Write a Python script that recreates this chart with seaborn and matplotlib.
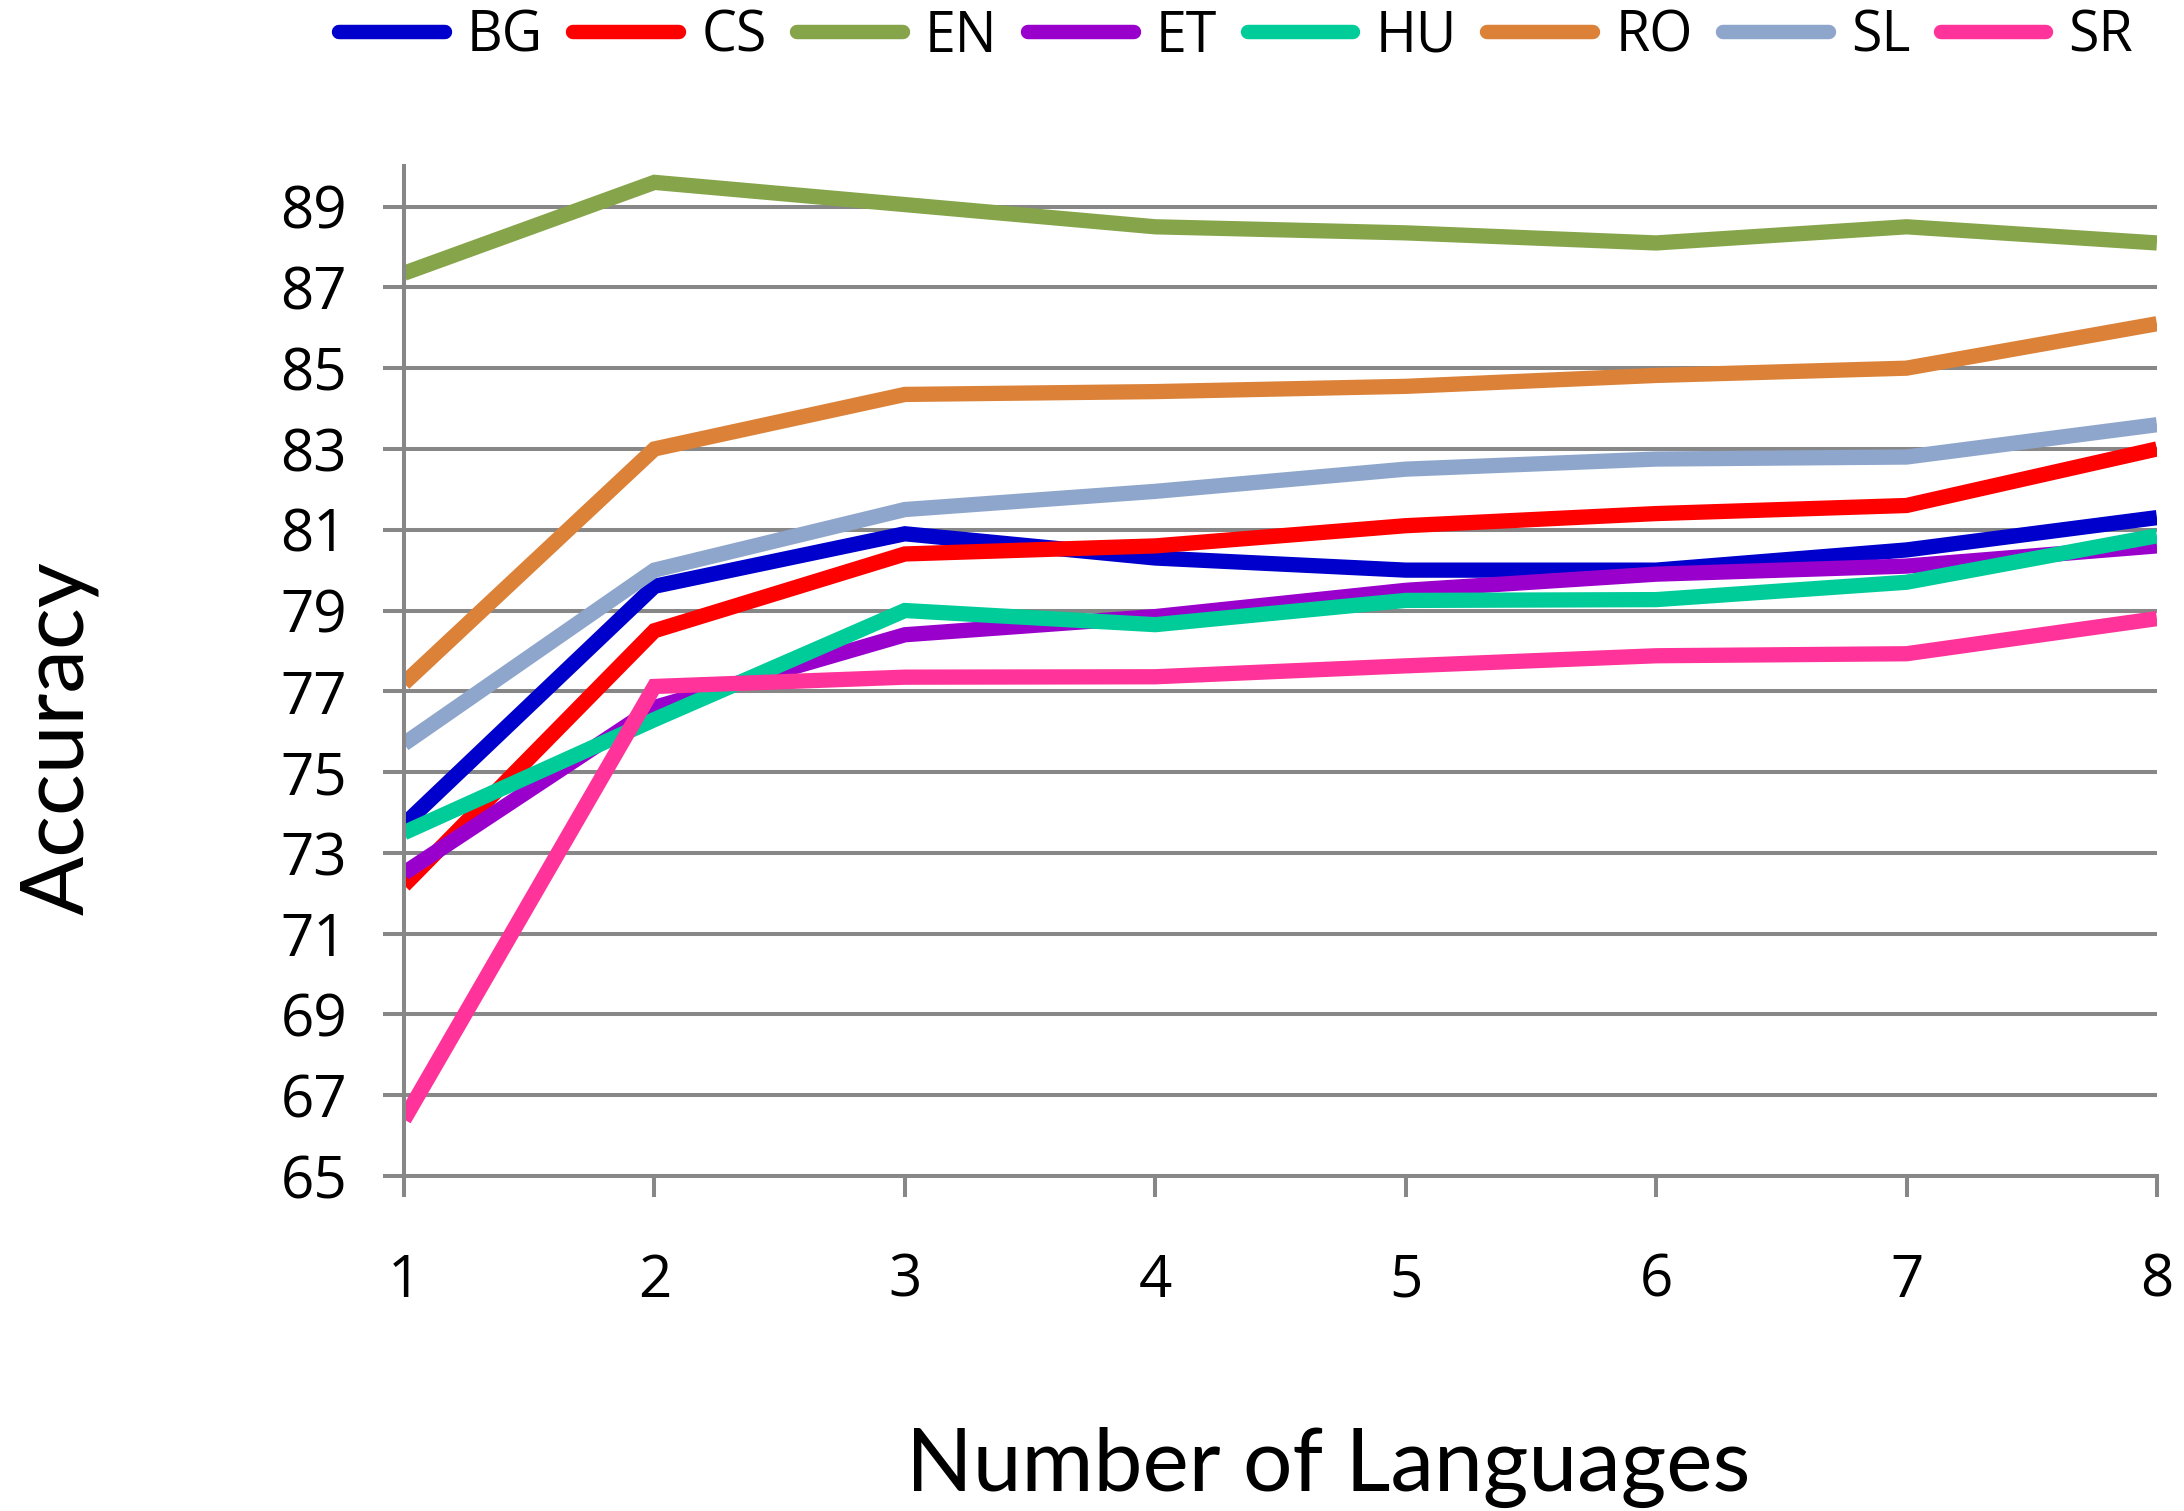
import numpy as np
import pandas as pd
import matplotlib
matplotlib.use("Agg")
import matplotlib.pyplot as plt
import seaborn as sns

# Accuracy by number of training languages, one series per language
num_languages = [1, 2, 3, 4, 5, 6, 7, 8]
series_names = ["BG", "CS", "EN", "ET", "HU", "RO", "SL", "SR"]

bg = [73.7, 79.6, 80.9, 80.3, 80.0, 80.0, 80.5, 81.3]
cs = [72.2, 78.5, 80.4, 80.6, 81.1, 81.4, 81.6, 83.0]
en = [87.35, 89.6, 89.05, 88.5, 88.35, 88.1, 88.5, 88.1]
et = [72.5, 76.6, 78.4, 78.85, 79.5, 79.9, 80.1, 80.6]
hu = [73.5, 76.3, 79.0, 78.65, 79.25, 79.27, 79.7, 80.85]
ro = [77.2, 83.0, 84.35, 84.42, 84.55, 84.82, 85.0, 86.1]
sl = [75.7, 80.0, 81.5, 81.95, 82.5, 82.75, 82.8, 83.6]
sr = [66.4, 77.12, 77.35, 77.36, 77.63, 77.88, 77.93, 78.8]

y_ticks = [65, 67, 69, 71, 73, 75, 77, 79, 81, 83, 85, 87, 89]

colors = ["#0000CC", "#FF0000", "#86A44A", "#9900CC",
          "#00CC99", "#DB8138", "#8EA6CB", "#FF3399"]

values = [bg, cs, en, et, hu, ro, sl, sr]
df = pd.DataFrame({
    "Number of Languages": np.tile(num_languages, len(series_names)),
    "Accuracy": np.concatenate(values),
    "Language": np.repeat(series_names, len(num_languages)),
})

sns.set_theme(style="white")
plt.rcParams["font.family"] = ["Lato", "DejaVu Sans"]
plt.rcParams["text.color"] = "black"
plt.rcParams["axes.labelcolor"] = "black"

fig = plt.figure(figsize=(21.84, 15.11), dpi=100)
ax = fig.add_axes([0.185, 0.2217, 0.8026, 0.6683])

sns.lineplot(data=df, x="Number of Languages", y="Accuracy", hue="Language",
             hue_order=series_names, palette=colors, linewidth=11,
             legend=False, ax=ax)
for ln in ax.lines:
    ln.set_solid_joinstyle("miter")
    ln.set_solid_capstyle("butt")

grid_color = "#878787"
ax.set_xlim(1, 8)
ax.set_ylim(65, 90)
ax.set_xticks(num_languages)
ax.set_yticks(y_ticks)
ax.set_xticklabels([str(v) for v in num_languages])
ax.set_yticklabels([str(v) for v in y_ticks])

ax.yaxis.grid(True, color=grid_color, linewidth=2.9)
ax.xaxis.grid(False)
ax.set_axisbelow(True)
for side in ["top", "right"]:
    ax.spines[side].set_visible(False)
for side in ["left", "bottom"]:
    ax.spines[side].set_color(grid_color)
    ax.spines[side].set_linewidth(2.9)

ax.tick_params(axis="both", which="major", direction="out", length=15,
               width=2.9, color=grid_color, labelsize=42, labelcolor="black")
ax.tick_params(axis="y", pad=26, left=True)
ax.tick_params(axis="x", pad=40, bottom=True)
for lbl in ax.get_xticklabels() + ax.get_yticklabels():
    lbl.set_family(["Open Sans", "DejaVu Sans"])

ax.set_xlabel("Number of Languages", fontsize=63)
ax.set_ylabel("Accuracy", fontsize=63)
ax.xaxis.set_label_coords(0.527, -0.248)
ax.yaxis.set_label_coords(-0.174, 0.434)

handles = ax.lines[:len(series_names)]
leg = fig.legend(handles, series_names, loc="center",
                 bbox_to_anchor=(0.566, 0.9755), ncol=8, frameon=False,
                 handlelength=1.9, handletextpad=0.4, columnspacing=0.55,
                 prop={"family": ["Open Sans", "DejaVu Sans"], "size": 40})
for h in leg.legend_handles:
    h.set_linewidth(10.4)
    h.set_solid_capstyle("round")

fig.savefig("out.png", dpi=100)
